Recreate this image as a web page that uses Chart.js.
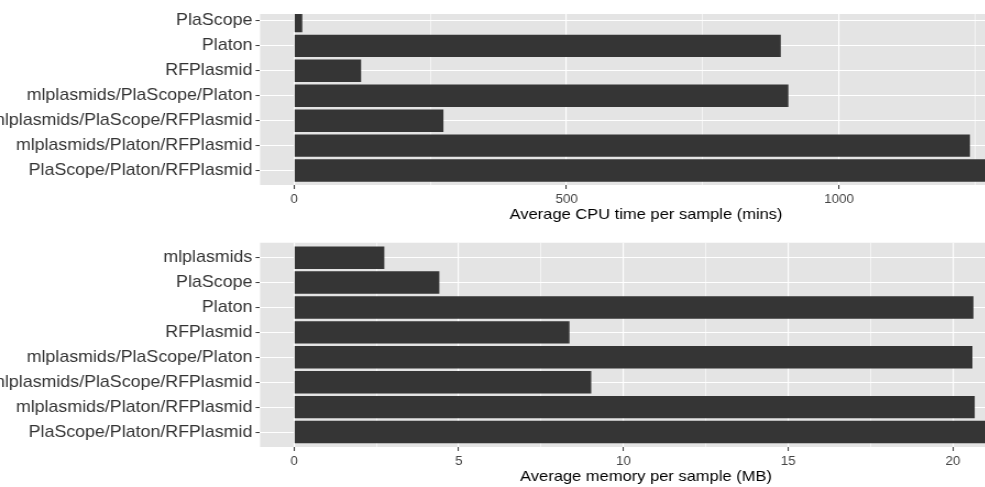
<!DOCTYPE html>
<html>
<head>
<meta charset="utf-8">
<script src="https://cdn.jsdelivr.net/npm/chart.js@4.4.0/dist/chart.umd.min.js"></script>
<style>
  html, body { margin: 0; padding: 0; background: #fff; overflow: hidden; }
  #page { position: relative; width: 985px; height: 487px; overflow: hidden; }
  /* the source figure is a bit stretched sideways, so draw narrow and scale */
  .panel { position: absolute; left: 0; width: 938.2px; transform: scaleX(1.1); transform-origin: 0 0; }
  #top { top: 0; height: 230px; }
  #bottom { top: 230px; height: 257px; }
</style>
</head>
<body>
<div id="page">
  <div class="panel" id="top"><canvas id="cpuChart"></canvas></div>
  <div class="panel" id="bottom"><canvas id="memChart"></canvas></div>
</div>
<script>
// top panel: CPU time
const cpuTools = ['PlaScope', 'Platon', 'RFPlasmid', 'mlplasmids/PlaScope/Platon',
  'mlplasmids/PlaScope/RFPlasmid', 'mlplasmids/Platon/RFPlasmid', 'PlaScope/Platon/RFPlasmid'];
const cpuMins = [15, 893, 123, 907, 274, 1240, 1290];
const cpuTicks = [0, 500, 1000];

// bottom panel: memory
const memTools = ['mlplasmids', 'PlaScope', 'Platon', 'RFPlasmid', 'mlplasmids/PlaScope/Platon',
  'mlplasmids/PlaScope/RFPlasmid', 'mlplasmids/Platon/RFPlasmid', 'PlaScope/Platon/RFPlasmid'];
const memMB = [2.74, 4.41, 20.62, 8.36, 20.59, 9.02, 20.66, 21.3];
const memTicks = [0, 5, 10, 15, 20];

const FONT = '"Liberation Sans", Arial, sans-serif';
const panelBg = {
  id: 'panelBg',
  beforeDraw(chart) {
    const a = chart.chartArea;
    const ctx = chart.ctx;
    ctx.save();
    ctx.fillStyle = '#E4E4E4';
    ctx.fillRect(a.left, a.top, a.right - a.left, a.bottom - a.top);
    ctx.restore();
  }
};

function makeChart(id, tools, values, tickVals, cfg) {
  const isMajor = c => c.tick && tickVals.includes(c.tick.value);
  return new Chart(document.getElementById(id), {
    type: 'bar',
    data: {
      datasets: [{
        data: values.map((v, i) => ({ x: v, y: i })),
        backgroundColor: '#353535',
        borderWidth: 0,
        barPercentage: 0.9,
        categoryPercentage: 1.0
      }]
    },
    options: {
      indexAxis: 'y',
      animation: false,
      responsive: true,
      maintainAspectRatio: false,
      layout: { padding: { top: cfg.padTop, left: 0, right: 0, bottom: 0 } },
      plugins: { legend: { display: false }, tooltip: { enabled: false } },
      scales: {
        x: {
          type: 'linear',
          min: cfg.xMin,
          max: cfg.xMax,
          offset: false,
          border: { display: false },
          grid: {
            offset: false,
            color: '#FFFFFF',
            lineWidth: c => isMajor(c) ? 1.15 : 0.6,
            tickColor: c => isMajor(c) ? '#333333' : 'rgba(0,0,0,0)',
            tickLength: 4,
            tickWidth: 1
          },
          ticks: {
            stepSize: cfg.step,
            includeBounds: false,
            autoSkip: false,
            maxRotation: 0,
            padding: 3,
            color: '#444444',
            font: { family: FONT, size: 12.2 },
            callback: v => tickVals.includes(v) ? String(v) : ''
          },
          title: {
            display: true,
            text: cfg.title,
            color: '#000000',
            font: { family: FONT, size: 15 },
            padding: { top: 0, bottom: cfg.titlePad }
          },
          afterFit: s => { s.height = cfg.xHeight; }
        },
        y: {
          type: 'linear',
          reverse: true,
          min: cfg.yMin,
          max: cfg.yMax,
          offset: false,
          border: { display: false },
          grid: {
            offset: false,
            color: '#FFFFFF',
            lineWidth: 1.1,
            tickColor: '#333333',
            tickLength: 4,
            tickWidth: 1
          },
          ticks: {
            stepSize: 1,
            includeBounds: false,
            autoSkip: false,
            padding: 3,
            color: '#333333',
            font: { family: FONT, size: 16.2 },
            callback: v => tools[v] !== undefined ? tools[v] : ''
          },
          afterFit: s => { s.width = 236.4; }
        }
      }
    },
    plugins: [panelBg]
  });
}

makeChart('cpuChart', cpuTools, cpuMins, cpuTicks, {
  xMin: -62.4, xMax: 1354, step: 250,
  yMin: -0.28, yMax: 6.58,
  padTop: 14, xHeight: 45, titlePad: 6,
  title: 'Average CPU time per sample (mins)'
});

makeChart('memChart', memTools, memMB, memTicks, {
  xMin: -1.032, xMax: 22.4, step: 2.5,
  yMin: -0.6, yMax: 7.6,
  padTop: 11, xHeight: 40, titlePad: 1,
  title: 'Average memory per sample (MB)'
});
</script>
</body>
</html>
